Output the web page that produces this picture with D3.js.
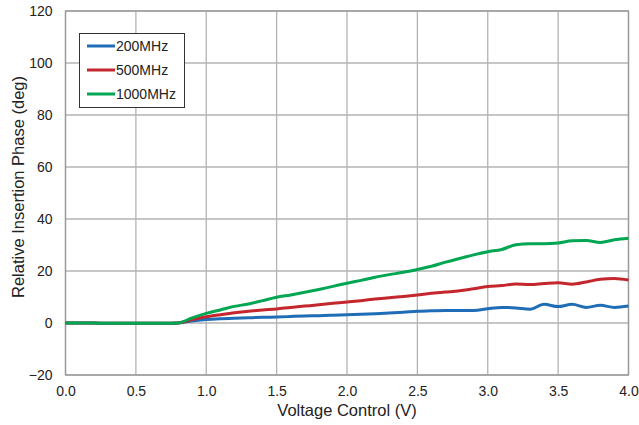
<!DOCTYPE html>
<html><head><meta charset="utf-8">
<script src="https://cdn.jsdelivr.net/npm/d3@7"></script>
<style>body{margin:0;background:#fff;} text{font-family:"Liberation Sans",Arial,sans-serif;fill:#222;}</style>
</head><body><svg id="c" width="639" height="425"></svg>
<script>
const voltage = [0,0.1,0.2,0.3,0.4,0.5,0.6,0.7,0.8,0.9,1.0,1.1,1.2,1.3,1.4,1.5,1.6,1.7,1.8,1.9,2.0,2.1,2.2,2.3,2.4,2.5,2.6,2.7,2.8,2.9,3.0,3.1,3.2,3.3,3.4,3.5,3.6,3.7,3.8,3.9,4.0];
const phase200 = [0,0,0,-0.1,-0.1,-0.1,-0.1,-0.1,0,0.8,1.3,1.6,1.8,2.0,2.2,2.3,2.5,2.7,2.8,3.0,3.2,3.4,3.6,3.8,4.1,4.5,4.7,4.8,4.8,4.8,5.5,6.0,5.8,5.3,7.2,6.3,7.2,6.0,6.8,6.0,6.5];
const phase500 = [0,0,0,-0.1,-0.1,-0.1,-0.1,-0.1,0,1.3,2.4,3.2,3.9,4.5,5.0,5.4,6.0,6.5,7.0,7.6,8.1,8.6,9.2,9.7,10.2,10.8,11.4,11.9,12.4,13.2,14.0,14.4,15.0,14.8,15.2,15.5,14.9,15.8,16.8,17.1,16.5];
const phase1000 = [0,0,0,-0.1,-0.1,-0.1,-0.1,-0.1,0,2.0,3.7,5.0,6.4,7.3,8.6,9.9,10.8,11.8,12.9,14.1,15.3,16.4,17.6,18.6,19.5,20.6,21.8,23.4,24.8,26.2,27.4,28.3,30.1,30.5,30.5,30.8,31.6,31.7,31.0,32.0,32.6];
const seriesNames = ["200MHz","500MHz","1000MHz"];
const seriesColors = ["#1f6db6","#c4262e","#00a651"];
const xTicks = [0,0.5,1,1.5,2,2.5,3,3.5,4];
const yTicks = [-20,0,20,40,60,80,100,120];

const svg = d3.select("#c");
const L=65.5, R=628.5, T=11, B=375;
const x = d3.scaleLinear().domain([0,4]).range([L,R]);
const y = d3.scaleLinear().domain([-20,120]).range([B,T]);

svg.append("g").selectAll("line").data(xTicks).join("line")
  .attr("x1",d=>x(d)).attr("x2",d=>x(d)).attr("y1",T).attr("y2",B)
  .attr("stroke","#b3b3b3").attr("stroke-width",1.3);
svg.append("g").selectAll("line").data(yTicks).join("line")
  .attr("x1",L).attr("x2",R).attr("y1",d=>y(d)).attr("y2",d=>y(d))
  .attr("stroke","#b3b3b3").attr("stroke-width",1.3);
svg.append("rect").attr("x",L).attr("y",T).attr("width",R-L).attr("height",B-T)
  .attr("fill","none").attr("stroke","#999").attr("stroke-width",1.3);

const xa = svg.append("g").attr("transform",`translate(0,${B})`)
  .call(d3.axisBottom(x).tickValues(xTicks).tickFormat(d3.format(".1f")).tickSize(0).tickPadding(11));
xa.select(".domain").remove();
xa.selectAll("text").attr("font-size",14).attr("fill","#222");
const ya = svg.append("g").attr("transform",`translate(${L},0)`)
  .call(d3.axisLeft(y).tickValues(yTicks).tickSize(0).tickPadding(13));
ya.select(".domain").remove();
ya.selectAll("text").attr("font-size",14).attr("fill","#222");

svg.append("text").attr("x",347).attr("y",416).attr("text-anchor","middle").attr("font-size",16.5).text("Voltage Control (V)");
svg.append("text").attr("transform","translate(24,187) rotate(-90)").attr("text-anchor","middle").attr("font-size",16.5).text("Relative Insertion Phase (deg)");

const all = [phase200,phase500,phase1000];
const line = d3.line().x((d,i)=>x(voltage[i])).y(d=>y(d)).curve(d3.curveMonotoneX);
all.forEach((s,k)=>{
  svg.append("path").attr("d",line(s)).attr("fill","none")
    .attr("stroke",seriesColors[k]).attr("stroke-width",3).attr("stroke-linejoin","round");
});

const lg = svg.append("g");
lg.append("rect").attr("x",79.5).attr("y",33.5).attr("width",105).attr("height",74)
  .attr("fill","#fff").attr("stroke","#333").attr("stroke-width",1);
seriesNames.forEach((n,k)=>{
  const yy = 46 + k*24;
  lg.append("line").attr("x1",87).attr("x2",115).attr("y1",yy).attr("y2",yy)
    .attr("stroke",seriesColors[k]).attr("stroke-width",3);
  lg.append("text").attr("x",116).attr("y",yy+5).attr("font-size",14).text(n);
});
</script></body></html>
